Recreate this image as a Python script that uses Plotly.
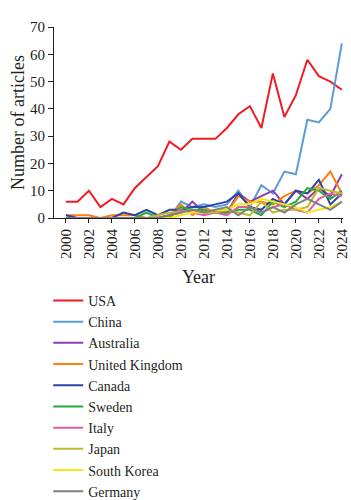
import plotly.graph_objects as go

years = list(range(2000, 2025))

usa = [6, 6, 10, 4, 7, 5, 11, 15, 19, 28, 25, 29, 29, 29, 33, 38, 41, 33, 53, 37, 45, 58, 52, 50, 47]
china = [0, 0, 0, 0, 0, 0, 0, 0, 0, 0, 6, 4, 5, 4, 5, 10, 4, 12, 9, 17, 16, 36, 35, 40, 64]
australia = [0, 0, 0, 0, 0, 0, 0, 0, 0, 1, 2, 6, 2, 2, 2, 9, 6, 8, 10, 5, 10, 7, 11, 8, 16]
uk = [1, 1, 1, 0, 1, 1, 1, 0, 0, 1, 5, 1, 4, 2, 2, 8, 6, 6, 5, 8, 10, 9, 12, 17, 9]
canada = [1, 0, 0, 0, 0, 2, 1, 3, 1, 3, 3, 4, 4, 5, 6, 9, 4, 3, 7, 5, 10, 9, 14, 5, 9]
sweden = [0, 0, 0, 0, 0, 0, 0, 2, 0, 0, 4, 3, 3, 2, 2, 3, 3, 1, 6, 4, 6, 11, 10, 7, 10]
italy = [0, 0, 0, 0, 0, 0, 0, 0, 0, 1, 3, 2, 1, 2, 1, 4, 4, 2, 4, 5, 3, 2, 7, 9, 8]
japan = [0, 0, 0, 0, 0, 0, 0, 0, 1, 2, 2, 3, 2, 2, 3, 2, 1, 6, 2, 3, 3, 4, 11, 10, 9]
south_korea = [0, 0, 0, 0, 0, 0, 0, 0, 0, 0, 1, 2, 2, 3, 3, 5, 5, 7, 6, 5, 4, 2, 3, 4, 6]
germany = [0, 0, 0, 0, 0, 0, 0, 0, 0, 1, 2, 3, 2, 3, 4, 1, 4, 2, 4, 2, 5, 7, 5, 3, 6]

series = [
    ("USA", usa, "#f01c24"),
    ("China", china, "#5b9bd8"),
    ("Australia", australia, "#8a3fb0"),
    ("United Kingdom", uk, "#ff7f10"),
    ("Canada", canada, "#2a45a8"),
    ("Sweden", sweden, "#22ad3a"),
    ("Italy", italy, "#e45aa6"),
    ("Japan", japan, "#c2bb2c"),
    ("South Korea", south_korea, "#f5ea10"),
    ("Germany", germany, "#808080"),
]

fig = go.Figure()
for name, vals, col in series:
    fig.add_trace(go.Scatter(x=years, y=vals, mode="lines", name=name,
                             line=dict(color=col, width=2)))

font = "Liberation Serif, Times New Roman, serif"
fig.update_layout(
    width=351, height=500,
    margin=dict(l=54, r=8, t=27, b=282, autoexpand=False),
    paper_bgcolor="white", plot_bgcolor="white",
    font=dict(family=font, size=15, color="#231f20"),
    showlegend=True,
    legend=dict(orientation="v", x=-0.02, xanchor="left", y=-0.35, yanchor="top",
                font=dict(size=14, family=font), tracegroupgap=0, itemwidth=30,
                bgcolor="rgba(0,0,0,0)"),
    xaxis=dict(range=[1998.96, 2024.1], tickmode="linear", tick0=2000, dtick=2,
               tickangle=-90, showgrid=False, zeroline=False, showline=True,
               linecolor="#231f20", linewidth=1.2, ticks="outside", ticklen=4,
               tickcolor="#231f20", title=dict(text="Year", standoff=12),
               tickfont=dict(size=15)),
    yaxis=dict(range=[0, 70], tickmode="linear", tick0=0, dtick=10,
               showgrid=False, zeroline=False, showline=True,
               linecolor="#231f20", linewidth=1.2, ticks="outside", ticklen=5,
               tickcolor="#231f20", title=dict(text="Number of articles", standoff=0),
               tickfont=dict(size=15)),
)

fig.write_html("out.html")
